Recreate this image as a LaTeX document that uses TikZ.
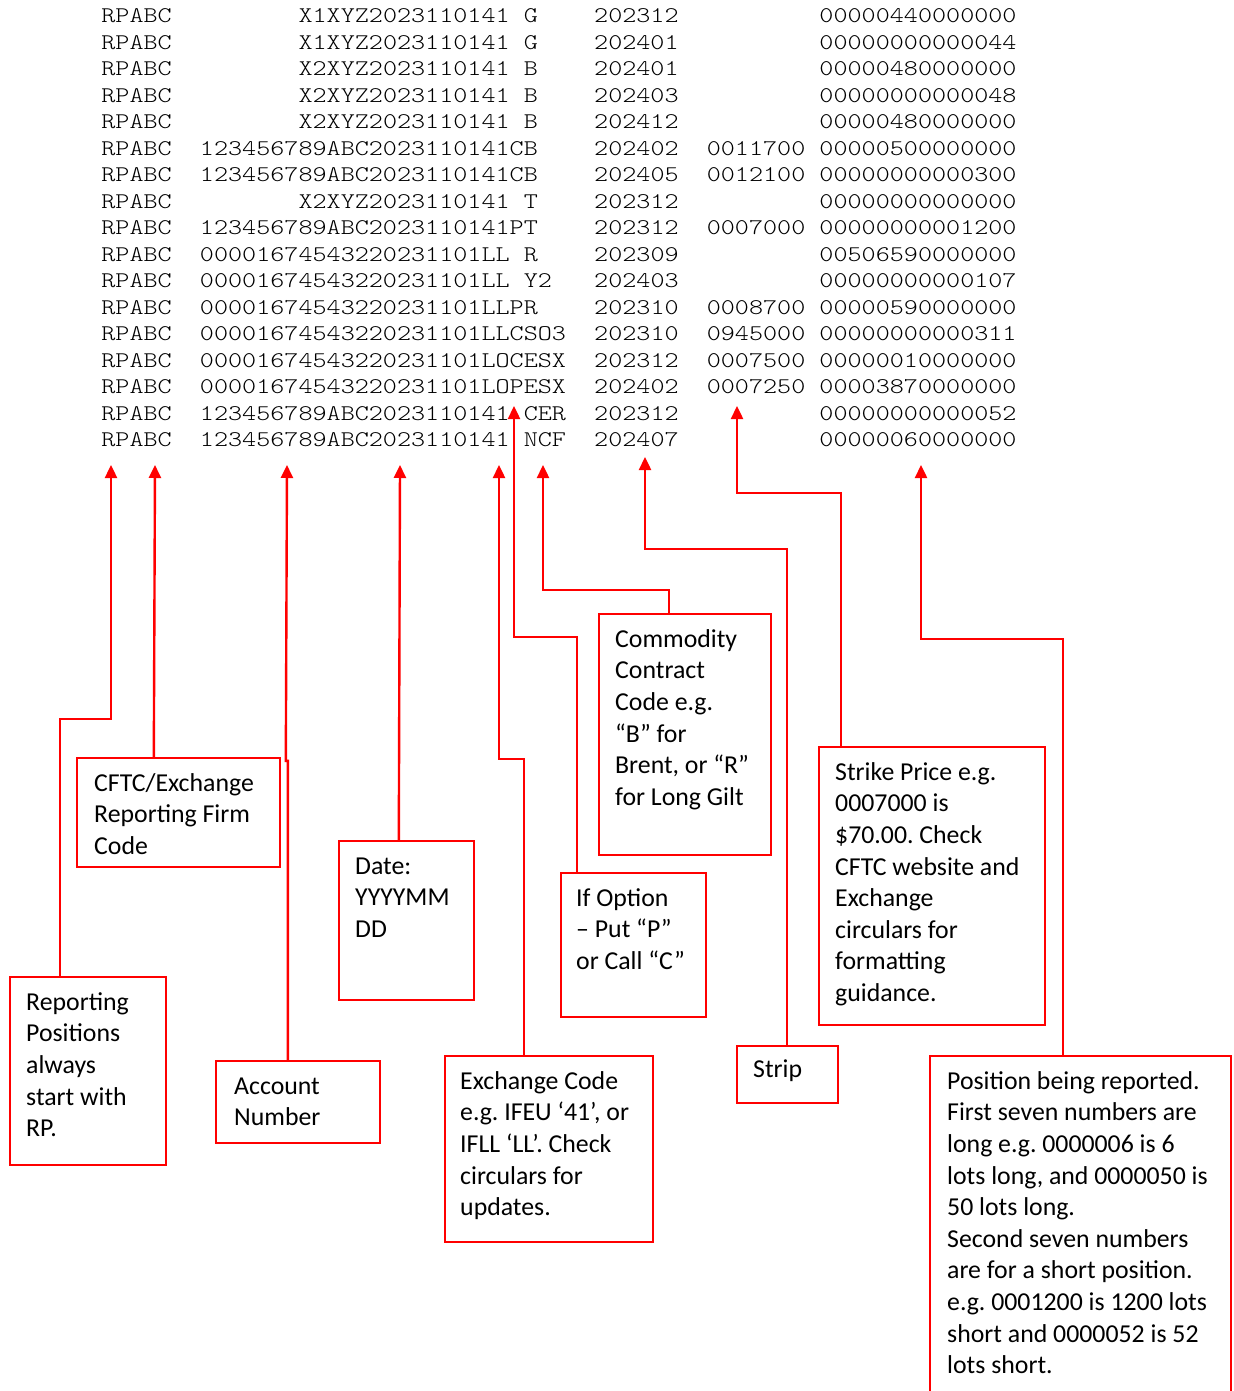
\documentclass[tikz,border=0pt]{standalone}
\usepackage{fontspec}
\usetikzlibrary{arrows.meta,calc,fit}
\newfontfamily\boxfont{Carlito}
\newfontfamily\datafont{lmmonolt10-regular}[Extension=.otf,FakeStretch=1.197]
\newlength\cw \setlength\cw{7.04pt}
\newcommand\datarow[8]{\makebox[7\cw][l]{RPABC}\makebox[12\cw][r]{#1}\makebox[8\cw][l]{#2}\makebox[2\cw][l]{#3}\makebox[\cw][l]{#4}\makebox[5\cw][l]{#5}\makebox[8\cw][l]{#6}\makebox[8\cw][l]{#7}#8}
\newcommand\btxt[1]{\parbox[t]{300pt}{\raggedright\frenchspacing #1}}
\frenchspacing
\begin{document}
\begin{tikzpicture}[x=0.5pt,y=-0.5pt,
  drow/.style={anchor=base west,inner sep=0pt,font={\fontsize{11.2pt}{13pt}\datafont},text=black},
  cbox/.style={draw=red,line width=1.2pt,inner sep=0pt,rectangle},
  btext/.style={anchor=base west,inner sep=0pt,font={\fontsize{12.9pt}{15.8pt}\boxfont},text=black},
  conn/.style={draw=red,line width=1.2pt,-{Triangle[length=6.5pt,width=6pt]}}]
\useasboundingbox (0,0) rectangle (1233,1391);
% data rows
\node[drow] (r1) at (101,23.00) {\datarow{X1XYZ}{20231101}{41}{}{G}{202312}{}{00000440000000}};
\node[drow] (r2) at (101,49.47) {\datarow{X1XYZ}{20231101}{41}{}{G}{202401}{}{00000000000044}};
\node[drow] (r3) at (101,75.94) {\datarow{X2XYZ}{20231101}{41}{}{B}{202401}{}{00000480000000}};
\node[drow] (r4) at (101,102.41) {\datarow{X2XYZ}{20231101}{41}{}{B}{202403}{}{00000000000048}};
\node[drow] (r5) at (101,128.88) {\datarow{X2XYZ}{20231101}{41}{}{B}{202412}{}{00000480000000}};
\node[drow] (r6) at (101,155.35) {\datarow{123456789ABC}{20231101}{41}{C}{B}{202402}{0011700}{00000500000000}};
\node[drow] (r7) at (101,181.82) {\datarow{123456789ABC}{20231101}{41}{C}{B}{202405}{0012100}{00000000000300}};
\node[drow] (r8) at (101,208.29) {\datarow{X2XYZ}{20231101}{41}{}{T}{202312}{}{00000000000000}};
\node[drow] (r9) at (101,234.76) {\datarow{123456789ABC}{20231101}{41}{P}{T}{202312}{0007000}{00000000001200}};
\node[drow] (r10) at (101,261.23) {\datarow{000016745432}{20231101}{LL}{}{R}{202309}{}{00506590000000}};
\node[drow] (r11) at (101,287.70) {\datarow{000016745432}{20231101}{LL}{}{Y2}{202403}{}{00000000000107}};
\node[drow] (r12) at (101,314.17) {\datarow{000016745432}{20231101}{LL}{P}{R}{202310}{0008700}{00000590000000}};
\node[drow] (r13) at (101,340.64) {\datarow{000016745432}{20231101}{LL}{C}{SO3}{202310}{0945000}{00000000000311}};
\node[drow] (r14) at (101,367.11) {\datarow{000016745432}{20231101}{LO}{C}{ESX}{202312}{0007500}{00000010000000}};
\node[drow] (r15) at (101,393.58) {\datarow{000016745432}{20231101}{LO}{P}{ESX}{202402}{0007250}{00003870000000}};
\node[drow] (r16) at (101,420.05) {\datarow{123456789ABC}{20231101}{41}{}{CER}{202312}{}{00000000000052}};
\node[drow] (r17) at (101,446.52) {\datarow{123456789ABC}{20231101}{41}{}{NCF}{202407}{}{00000060000000}};
% arrow tips
\coordinate (tRP) at (111,465);
\coordinate (tCFTC) at (155,465);
\coordinate (tACC) at (287,465);
\coordinate (tDATE) at (400,465);
\coordinate (tEX) at (499,465);
\coordinate (tOPT) at (514,406);
\coordinate (tCOM) at (543,465);
\coordinate (tSTRIP) at (645,457);
\coordinate (tSTK) at (737,406);
\coordinate (tPOS) at (921,465);
% boxes
\node[cbox,fit={(10,977) (166,1165)}] (rp) {};
\node[cbox,fit={(77,758) (280,867)}] (cftc) {};
\node[cbox,fit={(216,1061) (380,1143)}] (acct) {};
\node[cbox,fit={(339,841) (474,1000)}] (date) {};
\node[cbox,fit={(445,1056) (653,1242)}] (exch) {};
\node[cbox,fit={(561,873) (706,1017)}] (opt) {};
\node[cbox,fit={(599,614) (771,855)}] (comm) {};
\node[cbox,fit={(737,1046) (838,1103)}] (strip) {};
\node[cbox,fit={(819,747) (1045,1025)}] (strike) {};
\node[cbox,fit={(930,1056) (1231,1395)}] (pos) {};
% box texts
\node[btext] (rpT) at ($(rp.north west)+(17,34.5)$) {\btxt{Reporting\\Positions\\always\\start with\\RP.}};
\node[btext] (cftcT) at ($(cftc.north west)+(18,34.5)$) {\btxt{CFTC/Exchange\\Reporting Firm\\Code}};
\node[btext] (acctT) at ($(acct.north west)+(19,34.5)$) {\btxt{Account\\Number}};
\node[btext] (dateT) at ($(date.north west)+(17,34.5)$) {\btxt{Date:\\YYYYMM\\DD}};
\node[btext] (exchT) at ($(exch.north west)+(16,34.5)$) {\btxt{Exchange Code\\e.g. IFEU ‘41’, or\\IFLL ‘LL’. Check\\circulars for\\updates.}};
\node[btext] (optT) at ($(opt.north west)+(16,34.5)$) {\btxt{If Option\\– Put “P”\\or Call “C”}};
\node[btext] (commT) at ($(comm.north west)+(17,34.5)$) {\btxt{Commodity\\Contract\\Code e.g.\\“B” for\\Brent, or “R”\\for Long Gilt}};
\node[btext] (stripT) at ($(strip.north west)+(17,33)$) {\btxt{Strip}};
\node[btext] (strikeT) at ($(strike.north west)+(17,34.5)$) {\btxt{Strike Price e.g.\\0007000 is\\\$70.00. Check\\CFTC website and\\Exchange\\circulars for\\formatting\\guidance.}};
\node[btext] (posT) at ($(pos.north west)+(18,34.5)$) {\btxt{Position being reported.\\First seven numbers are\\long e.g. 0000006 is 6\\lots long, and 0000050 is\\50 lots long.\\Second seven numbers\\are for a short position.\\e.g. 0001200 is 1200 lots\\short and 0000052 is 52\\lots short.}};
% connectors
\draw[conn] ($(rp.north west)+(51,0)$) -- ++(0,-257) -| (tRP);
\draw[conn] ($(cftc.north west)+(78,0)$) -- (tCFTC);
\draw[conn] ($(acct.north west)+(73,0)$) -- ++(0,-299) -- ++(-2,0) -- (tACC);
\draw[conn] ($(date.north west)+(61,0)$) -- (tDATE);
\draw[conn] ($(exch.north west)+(80,0)$) -- ++(0,-296) -| (tEX);
\draw[conn] ($(opt.north west)+(17,0)$) -- ++(0,-235) -| (tOPT);
\draw[conn] ($(comm.north west)+(71,0)$) -- ++(0,-23) -| (tCOM);
\draw[conn] ($(strip.north west)+(51,0)$) -- ++(0,-496) -| (tSTRIP);
\draw[conn] ($(strike.north west)+(23,0)$) -- ++(0,-253) -| (tSTK);
\draw[conn] ($(pos.north west)+(134,0)$) -- ++(0,-416) -| (tPOS);
\end{tikzpicture}
\end{document}
